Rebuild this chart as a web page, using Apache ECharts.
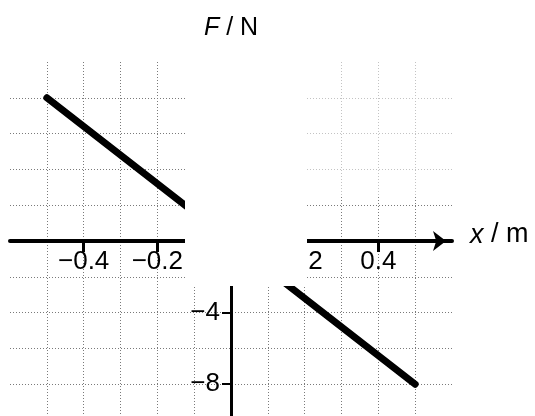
<!DOCTYPE html>
<html>
<head>
<meta charset="utf-8">
<script src="https://cdn.jsdelivr.net/npm/echarts@6/dist/echarts.min.js"></script>
<style>
  html, body { margin: 0; padding: 0; background: #fff; }
  #chart { width: 535px; height: 416px; }
</style>
</head>
<body>
<div id="chart"></div>
<script>
// Spring force law F = -k x, sampled at the ends of the plotted range
const xValues = [-0.5, 0.5];      // x / m
const forceValues = [8, -8];      // F / N
const xTickValues = [-0.4, -0.2, 0.2, 0.4];
const yTickValues = [-4, -8];

const X_MIN = -0.6, X_MAX = 0.6;
const Y_MIN = -10, Y_MAX = 10;

const FONT = '"Liberation Sans", Arial, sans-serif';
const minus = s => String(s).replace('-', '\u2212');

const lineData = xValues.map((x, i) => [x, forceValues[i]]);

const gridLine = { color: '#7a7a7a', width: 1, type: [1, 2] };

// Plot box; the two axes cross at the origin, so each axis is carried by a
// helper grid whose edge passes through zero.
const PLOT = { left: 10, right: 83, top: 62, height: 358 };
const W = 535;
const plotW = W - PLOT.left - PLOT.right;
const zeroX = PLOT.left + plotW * (0 - X_MIN) / (X_MAX - X_MIN);
const zeroY = PLOT.top + PLOT.height * (Y_MAX - 0) / (Y_MAX - Y_MIN);

const baseGrid = { outerBoundsMode: 'none', containLabel: false };

const chart = echarts.init(document.getElementById('chart'), null, { renderer: 'canvas' });
chart.setOption({
  animation: false,
  backgroundColor: '#fff',
  grid: [
    Object.assign({}, baseGrid, PLOT),
    Object.assign({}, baseGrid, { left: PLOT.left, right: PLOT.right, top: PLOT.top, height: zeroY - PLOT.top }),
    Object.assign({}, baseGrid, { left: zeroX, right: PLOT.right, top: PLOT.top, height: PLOT.height })
  ],
  xAxis: [
    {
      gridIndex: 0, type: 'value', min: X_MIN, max: X_MAX, interval: 0.1,
      axisLine: { show: false }, axisTick: { show: false }, axisLabel: { show: false },
      splitLine: { show: true, showMinLine: false, showMaxLine: false, lineStyle: gridLine }
    },
    {
      gridIndex: 1, type: 'value', min: X_MIN, max: X_MAX, interval: 0.2, position: 'bottom',
      name: '{i|x} / m',
      nameLocation: 'end',
      nameGap: 18,
      nameTextStyle: {
        fontFamily: FONT, fontSize: 27, color: '#000', verticalAlign: 'middle', padding: [0, 0, 12, 0],
        rich: { i: { fontFamily: FONT, fontSize: 27, fontStyle: 'italic', color: '#000' } }
      },
      axisLine: {
        show: true,
        onZero: false,
        lineStyle: { color: '#000', width: 4 },
        symbol: ['none', 'arrow'],
        symbolSize: [15, 13],
        symbolOffset: [0, -6]
      },
      axisTick: {
        show: true, inside: false, length: 11, customValues: xTickValues,
        lineStyle: { color: '#000', width: 3 }
      },
      axisLabel: {
        show: true,
        customValues: xTickValues,
        formatter: v => minus(Number(v).toFixed(1)),
        fontFamily: FONT, fontSize: 26, color: '#000', margin: 8
      },
      splitLine: { show: false }
    },
    { gridIndex: 2, type: 'value', min: 0, max: 1, show: false }
  ],
  yAxis: [
    {
      gridIndex: 0, type: 'value', min: Y_MIN, max: Y_MAX, interval: 2,
      axisLine: { show: false }, axisTick: { show: false }, axisLabel: { show: false },
      splitLine: { show: true, showMinLine: false, showMaxLine: false, lineStyle: gridLine }
    },
    { gridIndex: 1, type: 'value', min: 0, max: 1, show: false },
    {
      gridIndex: 2, type: 'value', min: Y_MIN, max: Y_MAX, interval: 4, position: 'left',
      name: '{i|F} / N',
      nameLocation: 'end',
      nameGap: 21,
      nameTextStyle: {
        fontFamily: FONT, fontSize: 25, color: '#000',
        rich: { i: { fontFamily: FONT, fontSize: 25, fontStyle: 'italic', color: '#000' } }
      },
      axisLine: { show: true, onZero: false, lineStyle: { color: '#000', width: 3 } },
      axisTick: {
        show: true, inside: false, length: 9, customValues: yTickValues,
        lineStyle: { color: '#000', width: 2 }
      },
      axisLabel: {
        show: true,
        customValues: yTickValues,
        formatter: v => minus(v),
        fontFamily: FONT, fontSize: 26, color: '#000', margin: 11
      },
      splitLine: { show: false }
    }
  ],
  series: [{
    type: 'line',
    xAxisIndex: 0, yAxisIndex: 0,
    data: lineData,
    symbol: 'none',
    lineStyle: { color: '#000', width: 7, cap: 'round' }
  }],
  graphic: [
    // blanked-out centre of the figure
    { type: 'rect', z: 100, shape: { x: 185, y: 50, width: 122, height: 236 }, style: { fill: '#fff' } },
    // faded upper-right corner of the grid
    { type: 'rect', z: 100, shape: { x: 307, y: 55, width: 150, height: 140 }, style: { fill: 'rgba(255,255,255,0.55)' } }
  ]
});
</script>
</body>
</html>
